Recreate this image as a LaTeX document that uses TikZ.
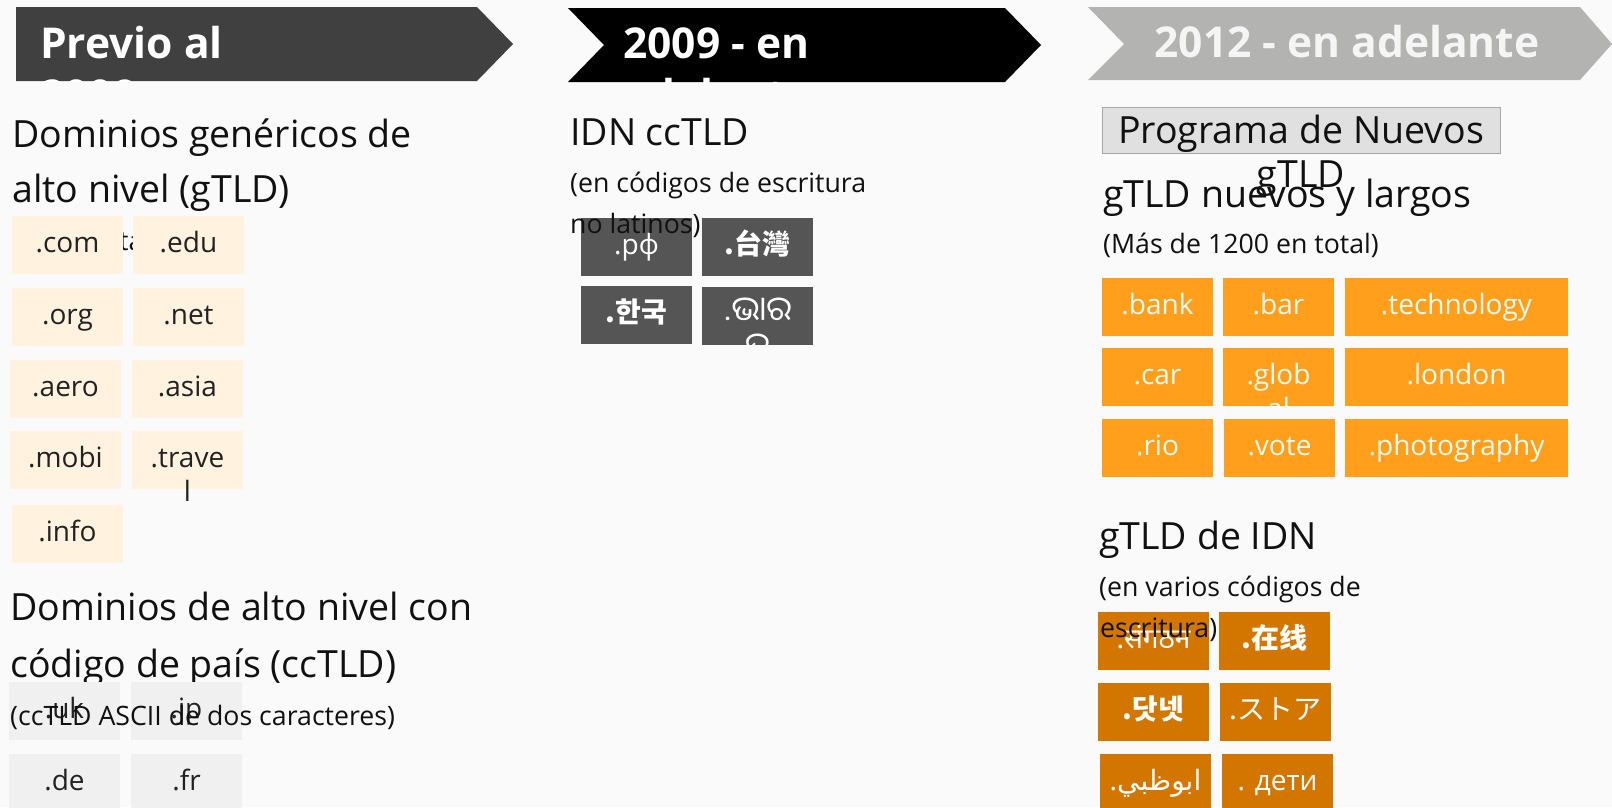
\documentclass[tikz,border=0pt]{standalone}
\usepackage{fontspec}
\setmainfont{Open Sans}
\newfontfamily\krfont{Noto Sans CJK KR}
\newfontfamily\tcfont{Noto Sans CJK TC}
\newfontfamily\scfont{Noto Sans CJK SC}
\newfontfamily\jpfont{Noto Sans CJK JP}
\newfontfamily\oriyafont[Script=Oriya,Scale=1.2]{Noto Sans Oriya UI}
\newfontfamily\devafont[Script=Devanagari]{Noto Sans}
\newfontfamily\arabicfont[Script=Arabic]{DejaVu Sans}
\TeXXeTstate=1
\definecolor{bgc}{HTML}{FAFAFA}
\definecolor{banA}{HTML}{404040}
\definecolor{banB}{HTML}{000000}
\definecolor{banC}{HTML}{B3B4B2}
\definecolor{cream}{HTML}{FFF3E0}
\definecolor{ltgray}{HTML}{F0F0F0}
\definecolor{dkgray}{HTML}{555555}
\definecolor{orng}{HTML}{FF9F1C}
\definecolor{dkorng}{HTML}{D27600}
\definecolor{progfill}{HTML}{E0E0E0}
\definecolor{progline}{HTML}{A8A8A8}
\definecolor{ink}{HTML}{111111}
\definecolor{tileink}{HTML}{222222}
\definecolor{lightink}{HTML}{FFFAF2}
\newcommand{\tldtile}[6]{% name, style, x, y, width, text
  \node[#2, minimum width=#5pt] (#1) at (#3,#4) {};
  \node[tiletext, #2text] (#1t) at ([yshift=-36pt]#1.north) {#6};}
\begin{document}
\begin{tikzpicture}[x=1pt,y=-1pt,
  tilebase/.style={anchor=north west, minimum height=58pt, inner sep=0pt, outer sep=0pt},
  creamtile/.style={tilebase, fill=cream},
  graytile/.style={tilebase, fill=ltgray},
  darktile/.style={tilebase, fill=dkgray},
  orangetile/.style={tilebase, fill=orng},
  dkorangetile/.style={tilebase, fill=dkorng},
  creamtiletext/.style={text=tileink},
  graytiletext/.style={text=tileink},
  darktiletext/.style={text=white},
  orangetiletext/.style={text=lightink},
  dkorangetiletext/.style={text=white},
  tiletext/.style={anchor=base, inner sep=0pt, font=\fontsize{28}{35}\selectfont},
  head/.style={anchor=base west, inner sep=0pt, text=ink, font=\fontsize{37.5}{54}\selectfont},
  sub/.style={anchor=base west, inner sep=0pt, text=ink, font=\fontsize{26.7}{41}\selectfont},
  bantext/.style={inner sep=0pt, text=white, font=\fontsize{42.5}{52}\bfseries\selectfont},
]
\useasboundingbox (0,0) rectangle (1612,807);
\fill[bgc] (0,0) rectangle (1612,807);

% ---- banners
\fill[banA] (16,7) -- (477,7) -- (513,44) -- (477,81) -- (16,81) -- cycle;
\begin{scope}
  \clip (16,7) -- (477,7) -- (513,44) -- (477,81) -- (16,81) -- cycle;
  \node[bantext, anchor=base west] (b1a) at (40,58) {Previo al};
  \node[bantext, anchor=base west] (b1b) at (40,110) {2009};
\end{scope}
\fill[banB] (568,8) -- (1005,8) -- (1041,45) -- (1005,82) -- (568,82) -- (604,45) -- cycle;
\begin{scope}
  \clip (568,8) -- (1005,8) -- (1041,45) -- (1005,82) -- (568,82) -- (604,45) -- cycle;
  \node[bantext, anchor=base west] (b2a) at (623,58) {2009 - en};
  \node[bantext, anchor=base west] (b2b) at (623,110) {adelante};
\end{scope}
\fill[banC] (1088,7) -- (1580,7) -- (1612,44) -- (1580,80) -- (1088,80) -- (1124,44) -- cycle;
\node[bantext, anchor=base, text=white!96!black] (b3a) at (1347,57) {2012 - en adelante};

% ---- column 1: gTLD
\node[head] (h1a) at (12,147) {Dominios genéricos de};
\node[head] (h1b) at (12,202) {alto nivel (gTLD)};
\node[sub] (h1c) at (119,250) {ta};
\tldtile{com}{creamtile}{12}{216}{111}{.com}
\tldtile{edu}{creamtile}{133}{216}{111}{.edu}
\tldtile{org}{creamtile}{12}{288}{111}{.org}
\tldtile{net}{creamtile}{133}{288}{111}{.net}
\tldtile{aero}{creamtile}{10}{360}{111}{.aero}
\tldtile{asia}{creamtile}{132}{360}{111}{.asia}
\tldtile{mobi}{creamtile}{10}{431}{111}{.mobi}
\tldtile{travel}{creamtile}{132}{431}{111}{.trave}
\node[tiletext, text=tileink] (travel2) at ([yshift=-34pt]travelt.base) {l};
\tldtile{info}{creamtile}{12}{505}{111}{.info}

% ---- column 1: ccTLD
\node[head] (h2a) at (10,620) {Dominios de alto nivel con};
\node[head] (h2b) at (10,677) {código de país (ccTLD)};
\tldtile{uk}{graytile}{9}{682}{111}{.uk}
\tldtile{jp}{graytile}{131}{682}{111}{.jp}
\tldtile{de}{graytile}{9}{754}{111}{.de}
\tldtile{fr}{graytile}{131}{754}{111}{.fr}
\node[sub] (h2c) at (10,725) {(ccTLD ASCII de dos caracteres)};

% ---- column 2: IDN ccTLD
\node[head] (h3a) at (570,145) {IDN ccTLD};
\tldtile{rf}{darktile}{581}{218}{111}{.рф}
\tldtile{tw}{darktile}{702}{218}{111}{\tcfont\bfseries .台灣}
\tldtile{kr}{darktile}{581}{286}{111}{\krfont\bfseries .한국}
\tldtile{in}{darktile}{702}{287}{111}{\oriyafont .ଭାର}
\begin{scope}
  \clip (in.south west) rectangle (in.north east);
  \node[tiletext, text=white] (in2) at ([yshift=-36pt]int.base) {\oriyafont ତ};
\end{scope}
\node[sub] (h3b) at (570,192) {(en códigos de escritura};
\node[sub] (h3c) at (570,233) {no latinos)};

% ---- column 3: new gTLD
\node[draw=progline, fill=progfill, line width=1.2pt, anchor=north west,
      minimum width=398pt, minimum height=46pt, inner sep=0pt] (prog) at (1102,107) {};
\node[anchor=base, inner sep=0pt, text=ink, font=\fontsize{37.5}{42}\selectfont] (proga) at (1301,143) {Programa de Nuevos};
\node[anchor=base, inner sep=0pt, text=ink, font=\fontsize{37.5}{42}\selectfont] (progb) at (1301,187) {gTLD};
\node[head] (h4a) at (1103,207) {gTLD nuevos y largos};
\node[sub] (h4b) at (1103,253) {(Más de 1200 en total)};
\tldtile{bank}{orangetile}{1102}{278}{111}{.bank}
\tldtile{bar}{orangetile}{1223}{278}{111}{.bar}
\tldtile{tech}{orangetile}{1345}{278}{223}{.technology}
\tldtile{car}{orangetile}{1102}{348}{111}{.car}
\tldtile{glob}{orangetile}{1223}{348}{111}{.glob}
\begin{scope}
  \clip (glob.south west) rectangle (glob.north east);
  \node[tiletext, text=lightink] (glob2) at ([yshift=-34pt]globt.base) {al};
\end{scope}
\tldtile{london}{orangetile}{1345}{348}{223}{.london}
\tldtile{rio}{orangetile}{1102}{419}{111}{.rio}
\tldtile{vote}{orangetile}{1224}{419}{111}{.vote}
\tldtile{photo}{orangetile}{1345}{419}{223}{.photography}

% ---- column 3: IDN gTLD
\node[head] (h5a) at (1099,549) {gTLD de IDN};
\tldtile{sang}{dkorangetile}{1098}{612}{111}{\devafont .संगठन}
\tldtile{zx}{dkorangetile}{1219}{612}{111}{\scfont\bfseries .在线}
\tldtile{dn}{dkorangetile}{1098}{683}{111}{\krfont\bfseries .닷넷}
\tldtile{st}{dkorangetile}{1220}{683}{111}{\jpfont .ストア}
\tldtile{ab}{dkorangetile}{1100}{754}{111}{.{\arabicfont\beginR ابوظبي\endR}}
\tldtile{de2}{dkorangetile}{1222}{754}{111}{. дети}
\node[sub] (h5b) at (1099,596) {(en varios códigos de};
\node[sub] (h5c) at (1100,637) {escritura)};
\end{tikzpicture}
\end{document}
